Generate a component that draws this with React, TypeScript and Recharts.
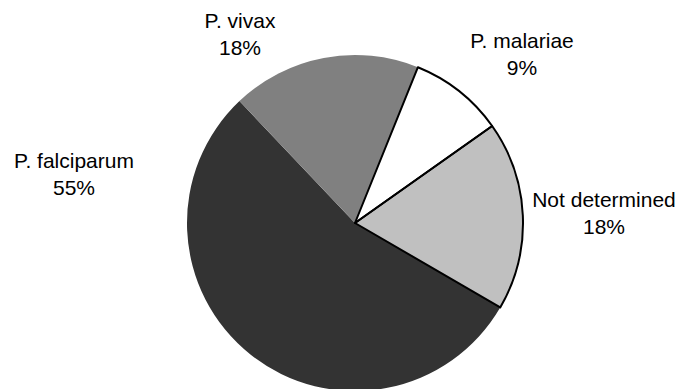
import { PieChart, Pie, Cell } from 'recharts';

// Species breakdown (cases out of 11)
const species = ['P. malariae', 'Not determined', 'P. falciparum', 'P. vivax'];
const cases = [1, 2, 6, 2];
const percentLabels = ['9%', '18%', '55%', '18%'];
const fills = ['#ffffff', '#c0c0c0', '#333333', '#808080'];
const outlined = [true, true, false, false];

// label anchor relative to pie centre: [dx of text centre, dy of first baseline]
const LABEL_OFFSETS: Record<string, [number, number]> = {
  'P. malariae': [167, -175],
  'Not determined': [249, -16],
  'P. falciparum': [-281, -55],
  'P. vivax': [-115, -195],
};

const data = species.map((name, i) => ({
  name,
  value: cases[i],
  pct: percentLabels[i],
}));

const W = 681;
const H = 389;
const CX = 355;
const CY = 223;
const R = 168;
const FONT = '"Liberation Sans", Arial, sans-serif';

function renderLabel(props: any) {
  const { cx, cy, payload, index } = props;
  const name = payload?.name ?? species[index];
  const off = LABEL_OFFSETS[name];
  if (!off) return null;
  const x = cx + off[0];
  const y = cy + off[1];
  return (
    <text
      x={x}
      y={y}
      textAnchor="middle"
      fill="#000"
      fontSize={21}
      fontFamily={FONT}
    >
      <tspan x={x} y={y}>{name}</tspan>
      <tspan x={x} y={y + 27}>{percentLabels[index]}</tspan>
    </text>
  );
}

export default function App() {
  return (
    <div style={{ position: 'absolute', left: 0, top: 0, width: W, height: H, background: '#fff' }}>
      <PieChart width={W} height={H} margin={{ top: 0, right: 0, bottom: 0, left: 0 }}>
        <Pie
          data={data}
          dataKey="value"
          nameKey="name"
          cx={CX}
          cy={CY}
          outerRadius={R}
          startAngle={68}
          endAngle={-292}
          stroke="none"
          label={renderLabel}
          labelLine={false}
          isAnimationActive={false}
        >
          {data.map((d, i) => (
            <Cell key={d.name} fill={fills[i]} stroke="none" />
          ))}
        </Pie>
        {/* black outlines only on the light slices, drawn on top */}
        <Pie
          data={data}
          dataKey="value"
          nameKey="name"
          cx={CX}
          cy={CY}
          outerRadius={R}
          startAngle={68}
          endAngle={-292}
          fill="none"
          isAnimationActive={false}
        >
          {data.map((d, i) => (
            <Cell
              key={d.name}
              fill="none"
              stroke={outlined[i] ? '#000' : 'none'}
              strokeWidth={2}
              strokeLinejoin="round"
            />
          ))}
        </Pie>
      </PieChart>
    </div>
  );
}
